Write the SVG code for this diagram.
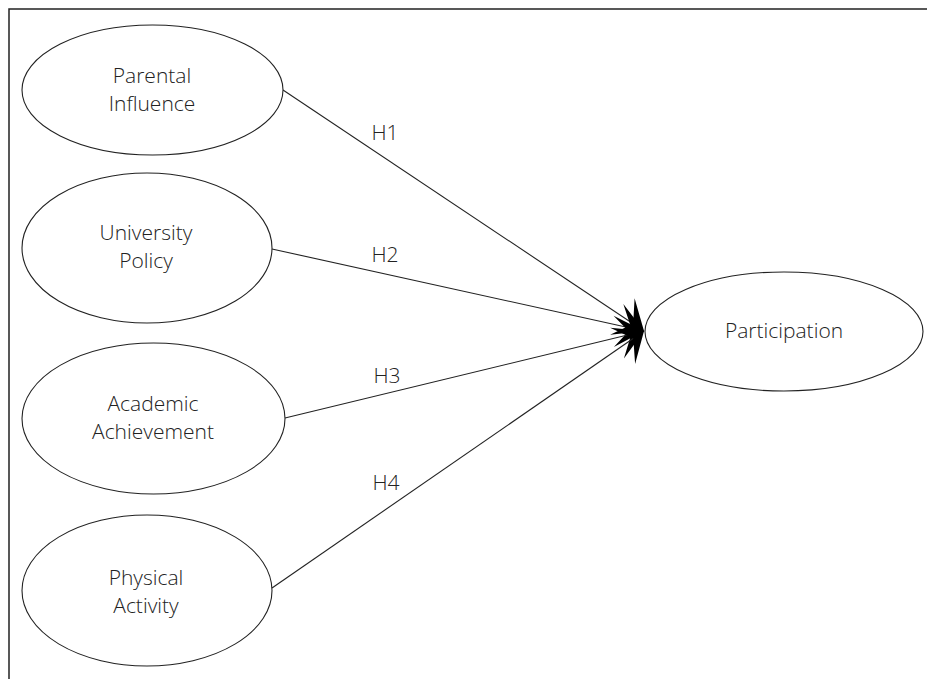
<svg xmlns="http://www.w3.org/2000/svg" width="927" height="679" viewBox="0 0 927 679">
  <style>
    .frame { fill: none; stroke: #222; stroke-width: 1.5; }
    .node ellipse { fill: #fff; stroke: #222; stroke-width: 1.1; }
    .node text, .label { font-family: "Open Sans", "Noto Sans", "Liberation Sans", sans-serif; font-size: 21px; font-weight: 300; fill: #222; text-anchor: middle; }
    .edge { fill: none; stroke: #222; stroke-width: 1.1; marker-end: url(#head); }
  </style>
  <defs>
    <marker id="head" markerUnits="userSpaceOnUse" markerWidth="60" markerHeight="60" refX="0" refY="0" orient="auto" overflow="visible">
      <path d="M0,0 L-26,-22 L-13,0 L-26,22 Z" fill="#000"/>
    </marker>
  </defs>
  <rect class="frame" x="9" y="9" width="940" height="690"/>
  <g id="connectors">
    <line class="edge" x1="283" y1="90" x2="644" y2="331"/>
    <line class="edge" x1="272" y1="249" x2="644" y2="331"/>
    <line class="edge" x1="285" y1="418" x2="644" y2="331"/>
    <line class="edge" x1="272" y1="588" x2="644" y2="331"/>
    <text class="label" x="385" y="140">H1</text>
    <text class="label" x="385" y="262">H2</text>
    <text class="label" x="387" y="383">H3</text>
    <text class="label" x="386" y="490">H4</text>
  </g>
  <g id="parental" class="node">
    <ellipse cx="152.5" cy="90" rx="130.5" ry="65"/>
    <text x="152" y="83">Parental</text>
    <text x="152" y="111">Influence</text>
  </g>
  <g id="university" class="node">
    <ellipse cx="147" cy="248" rx="125" ry="75"/>
    <text x="146" y="240">University</text>
    <text x="146" y="268">Policy</text>
  </g>
  <g id="academic" class="node">
    <ellipse cx="153.5" cy="418.5" rx="131.5" ry="75.5"/>
    <text x="153" y="411">Academic</text>
    <text x="153" y="439">Achievement</text>
  </g>
  <g id="physical" class="node">
    <ellipse cx="147" cy="590.5" rx="125" ry="75.5"/>
    <text x="146" y="585">Physical</text>
    <text x="146" y="613">Activity</text>
  </g>
  <g id="participation" class="node">
    <ellipse cx="784" cy="331.5" rx="139" ry="59.5"/>
    <text x="784" y="338">Participation</text>
  </g>
</svg>
